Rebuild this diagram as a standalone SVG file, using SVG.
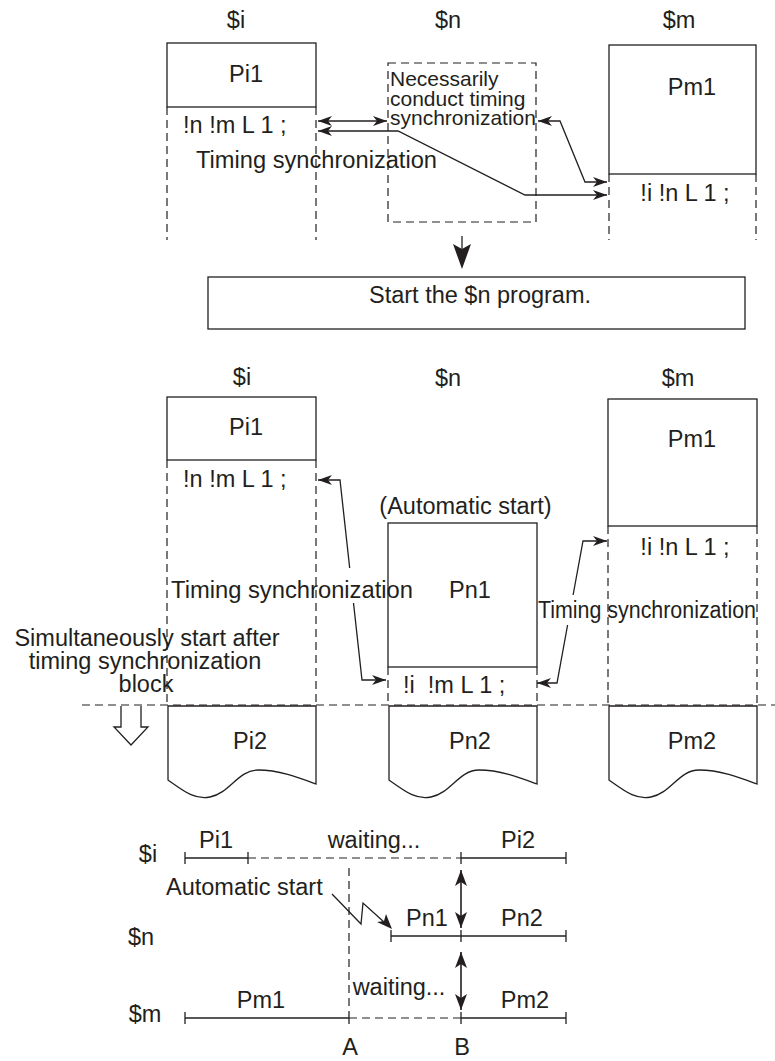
<svg xmlns="http://www.w3.org/2000/svg" width="775" height="1061" viewBox="0 0 775 1061">
<defs>
<style>
text{font-family:"Liberation Sans",Arial,sans-serif;font-size:23.5px;fill:#231f20}
.m{text-anchor:middle}
.sm{font-size:21px}
.box{fill:none;stroke:#231f20;stroke-width:1.3}
.wbox{fill:#fff;stroke:#231f20;stroke-width:1.3}
.dash{fill:none;stroke:#231f20;stroke-width:1.2;stroke-dasharray:8,5}
.ln{fill:none;stroke:#231f20;stroke-width:1.3}
.a2{fill:none;stroke:#231f20;stroke-width:1.3;marker-start:url(#ah);marker-end:url(#ah)}
.as{fill:none;stroke:#231f20;stroke-width:1.3;marker-start:url(#ah)}
.ae{fill:none;stroke:#231f20;stroke-width:1.3;marker-end:url(#ah)}
.b2{fill:none;stroke:#231f20;stroke-width:1.6;marker-start:url(#bh);marker-end:url(#bh)}
.tk{fill:none;stroke:#231f20;stroke-width:1.3}
</style>
<marker id="ah" viewBox="0 0 14 10" markerWidth="14" markerHeight="10" refX="14" refY="5" orient="auto-start-reverse" markerUnits="userSpaceOnUse"><path d="M0,0 L14,5 L0,10 L4,5 Z" fill="#231f20"/></marker>
<marker id="bh" viewBox="0 0 16 12" markerWidth="16" markerHeight="12" refX="16" refY="6" orient="auto-start-reverse" markerUnits="userSpaceOnUse"><path d="M0,0 L16,6 L0,12 L4,6 Z" fill="#231f20"/></marker>
</defs>
<rect x="0" y="0" width="775" height="1061" fill="#fff"/>

<!-- ===== Top section ===== -->
<g id="top-labels">
<text class="m" x="236" y="28">$i</text>
<text class="m" x="448" y="28">$n</text>
<text class="m" x="679" y="28">$m</text>
</g>
<g id="top-pi1">
<rect class="box" x="167" y="43" width="149" height="64"/>
<text class="m" x="246" y="82">Pi1</text>
<text x="183" y="133">!n !m L 1 ;</text>
<line class="dash" x1="167" y1="107" x2="167" y2="240"/>
<line class="dash" x1="316" y1="107" x2="316" y2="240"/>
</g>
<g id="top-sync-box">
<rect class="dash" x="388" y="63" width="148" height="159"/>
<text class="sm" x="390" y="86">Necessarily</text>
<text class="sm" x="390" y="106">conduct timing</text>
<text class="sm" x="390" y="125">synchronization</text>
</g>
<g id="top-pm1">
<rect class="box" x="609" y="45" width="147" height="129"/>
<text class="m" x="692" y="95">Pm1</text>
<text class="m" x="685" y="201">!i !n L 1 ;</text>
<line class="dash" x1="609" y1="174" x2="609" y2="240"/>
<line class="dash" x1="756" y1="174" x2="756" y2="240"/>
</g>
<g id="start-n">
<rect class="box" x="208" y="277" width="537" height="52"/>
<text class="m" x="480" y="303">Start the $n program.</text>
</g>

<!-- ===== Middle section ===== -->
<g id="mid-labels">
<text class="m" x="242" y="385">$i</text>
<text class="m" x="448" y="386">$n</text>
<text class="m" x="678" y="386">$m</text>
</g>
<g id="mid-pi1">
<rect class="box" x="167" y="397" width="149" height="63"/>
<text class="m" x="246" y="435">Pi1</text>
<text x="183" y="487">!n !m L 1 ;</text>
<line class="dash" x1="167" y1="460" x2="167" y2="705"/>
<line class="dash" x1="316" y1="460" x2="316" y2="705"/>
</g>
<g id="mid-pn1">
<text class="m" x="465.5" y="514">(Automatic start)</text>
<rect class="box" x="388" y="523" width="149" height="144"/>
<text class="m" x="470" y="598">Pn1</text>
<text x="403" y="693" xml:space="preserve">!i  !m L 1 ;</text>
<line class="dash" x1="388" y1="667" x2="388" y2="705"/>
<line class="dash" x1="537" y1="667" x2="537" y2="705"/>
</g>
<g id="mid-pm1">
<rect class="box" x="608" y="399" width="149" height="127"/>
<text class="m" x="692" y="447">Pm1</text>
<text class="m" x="685" y="555">!i !n L 1 ;</text>
<line class="dash" x1="608" y1="526" x2="608" y2="705"/>
<line class="dash" x1="757" y1="526" x2="757" y2="705"/>
</g>
<line id="sync-line" class="dash" x1="82" y1="705" x2="775" y2="705"/>
<g id="sim-start">
<text class="m" x="147" y="646">Simultaneously start after</text>
<text class="m" x="145" y="669">timing synchronization</text>
<text class="m" x="146" y="692">block</text>
<path class="box" d="M121,706 V727 H114 L131,745 L148,727 H141 V706"/>
</g>
<g id="pi2">
<path class="box" d="M168,706 H316 V784 C300,778 280,770 258,770 C238,770 230,793 210,797 C195,800 185,792 168,780 Z"/>
<text class="m" x="250" y="749">Pi2</text>
</g>
<g id="pn2">
<path class="box" d="M389,706 H537 V784 C521,778 501,770 479,770 C459,770 451,793 431,797 C416,800 406,792 389,780 Z"/>
<text class="m" x="470" y="749">Pn2</text>
</g>
<g id="pm2">
<path class="box" d="M609,706 H757 V784 C741,778 721,770 699,770 C679,770 671,793 651,797 C636,800 626,792 609,780 Z"/>
<text class="m" x="692" y="749">Pm2</text>
</g>

<!-- ===== Connectors ===== -->
<g id="connectors">
<line class="a2" x1="318" y1="121" x2="387" y2="121"/>
<path class="a2" d="M318,131 L398,131 L525,195 L607,195"/>
<path class="a2" d="M538,121 L560,121 L585,182 L607,182"/>
<text x="196" y="168" textLength="241" lengthAdjust="spacingAndGlyphs">Timing synchronization</text>
<line class="ln" x1="462" y1="236" x2="462" y2="250"/>
<path d="M453,244 L462,249 L471,244 L462,269 Z" fill="#231f20"/>
<path class="as" d="M318,480 L340,480 L349.7,568"/>
<path class="ae" d="M353.5,603 L362,680 L386,680"/>
<text x="171" y="598" textLength="242" lengthAdjust="spacingAndGlyphs">Timing synchronization</text>
<path class="as" d="M607,541 L583,541 L573.1,595"/>
<path class="ae" d="M567.6,625 L557,683 L537,683"/>
<text x="538" y="618" textLength="218" lengthAdjust="spacingAndGlyphs">Timing synchronization</text>
</g>

<!-- ===== Timeline ===== -->
<g id="tl-i">
<text class="m" x="148" y="862">$i</text>
<line class="ln" x1="185" y1="858" x2="248" y2="858"/>
<line class="dash" x1="248" y1="858" x2="461" y2="858"/>
<line class="ln" x1="461" y1="858" x2="566" y2="858"/>
<path class="tk" d="M185,852 V864 M248,852 V864 M461,852 V864 M566,852 V864"/>
<text class="m" x="216" y="848">Pi1</text>
<text class="m" x="374" y="848">waiting...</text>
<text class="m" x="518" y="848">Pi2</text>
</g>
<g id="tl-n">
<text class="m" x="141" y="945">$n</text>
<line class="ln" x1="391" y1="936" x2="566" y2="936"/>
<path class="tk" d="M391,930 V942 M461,930 V942 M566,930 V942"/>
<text class="m" x="427" y="926">Pn1</text>
<text class="m" x="522" y="926">Pn2</text>
</g>
<g id="tl-m">
<text class="m" x="145" y="1022">$m</text>
<line class="ln" x1="185" y1="1018" x2="349" y2="1018"/>
<line class="dash" x1="349" y1="1018" x2="461" y2="1018"/>
<line class="ln" x1="461" y1="1018" x2="566" y2="1018"/>
<path class="tk" d="M185,1012 V1024 M349,1012 V1024 M461,1012 V1024 M566,1012 V1024"/>
<text class="m" x="261" y="1008">Pm1</text>
<text class="m" x="399" y="995">waiting...</text>
<text class="m" x="525" y="1008">Pm2</text>
</g>
<g id="tl-marks">
<line class="dash" x1="349" y1="868" x2="349" y2="1012"/>
<text class="m" x="350" y="1055">A</text>
<text class="m" x="462" y="1055">B</text>
<text x="166" y="895">Automatic start</text>
</g>
<g id="tl-connectors">
<line class="b2" x1="461" y1="870" x2="461" y2="928"/>
<line class="b2" x1="461" y1="952" x2="461" y2="1010"/>
<path class="ln" d="M332,894 L361,924 L363,903 L384,922"/>
<path d="M392,929 L377,922 L384,921 L386,914 Z" fill="#231f20"/>
</g>
</svg>
